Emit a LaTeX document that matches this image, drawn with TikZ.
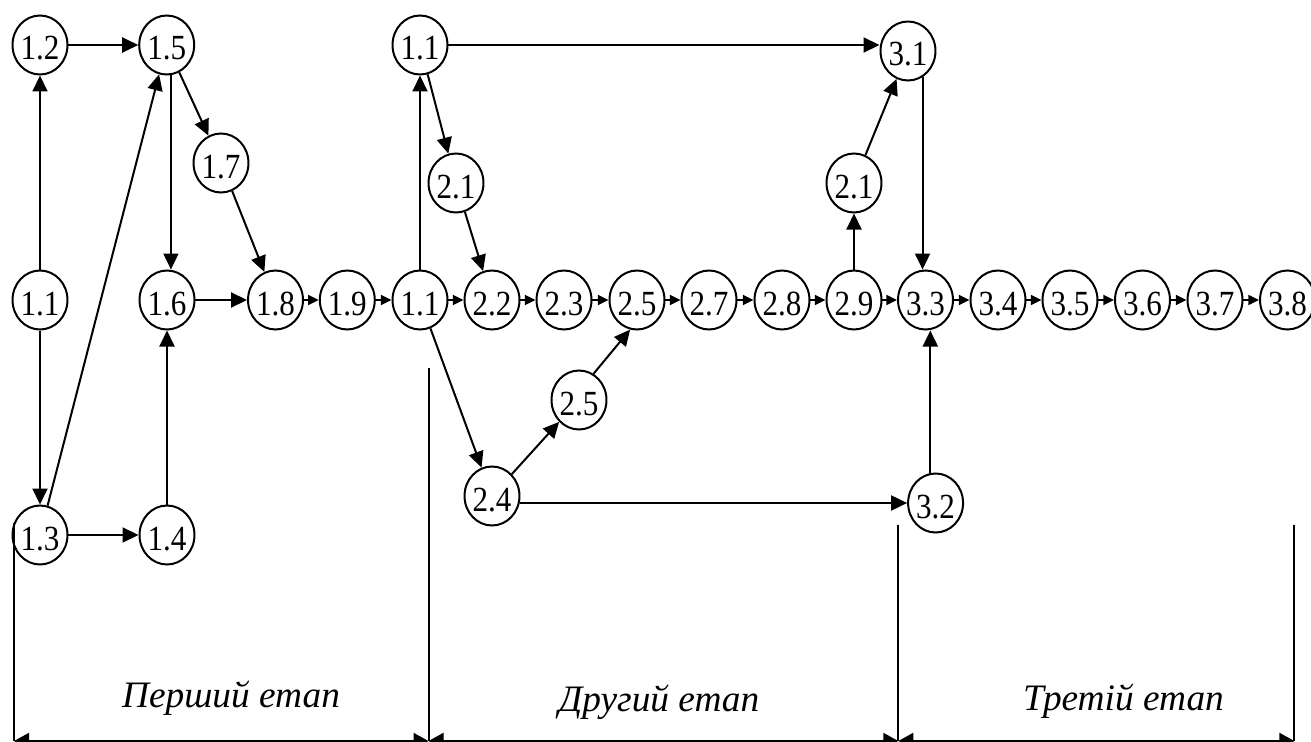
\documentclass[tikz,border=0pt]{standalone}
\usepackage{fontspec}
\usepackage{graphicx}
\setmainfont{Liberation Serif}
\usetikzlibrary{arrows.meta,shapes.geometric}
\newcommand{\evtext}[1]{\scalebox{0.88}[1]{#1}}

\begin{document}
\begin{tikzpicture}[x=0.75pt,y=-0.75pt,
  ev/.style={draw, ellipse, line width=1.5pt, minimum width=40.5pt,
    minimum height=44.25pt, inner sep=0pt,
    font=\fontsize{26.5}{27}\selectfont, text height=22.5pt, text depth=0pt},
  big/.style={line width=1.5pt, -{Triangle[length=12pt,width=11.25pt]}},
  small/.style={line width=1.5pt, -{Triangle[length=8pt,width=7.5pt]}},
  divider/.style={line width=1.5pt},
  span/.style={line width=1.5pt,
    {Triangle[length=11.25pt,width=12pt]}-{Triangle[length=11.25pt,width=12pt]}},
  stage/.style={font=\fontsize{28}{30}\selectfont\itshape, anchor=base, inner sep=0pt}
]
\useasboundingbox (0,0) rectangle (1311,742);
\clip (0,0) rectangle (1311,742);

% first stage events
\node[ev] (n12)  at (40,45)     {\evtext{1.2}};
\node[ev] (n15)  at (166.7,45)  {\evtext{1.5}};
\node[ev] (n17)  at (221,163)   {\evtext{1.7}};
\node[ev] (n11a) at (40,300)    {\evtext{1.1}};
\node[ev] (n16)  at (167,300)   {\evtext{1.6}};
\node[ev] (n18)  at (275.5,300) {\evtext{1.8}};
\node[ev] (n19)  at (347.3,300) {\evtext{1.9}};
\node[ev] (n11b) at (420,300)   {\evtext{1.1}};
\node[ev] (n11c) at (420,45)    {\evtext{1.1}};
\node[ev] (n13)  at (40,535)    {\evtext{1.3}};
\node[ev] (n14)  at (167,535)   {\evtext{1.4}};

% second stage events
\node[ev] (n21a) at (456,183)   {\evtext{2.1}};
\node[ev] (n22)  at (492,300)   {\evtext{2.2}};
\node[ev] (n23)  at (564,300)   {\evtext{2.3}};
\node[ev] (n25a) at (637,300)   {\evtext{2.5}};
\node[ev] (n27)  at (709,300)   {\evtext{2.7}};
\node[ev] (n28)  at (782,300)   {\evtext{2.8}};
\node[ev] (n29)  at (854,300)   {\evtext{2.9}};
\node[ev] (n21b) at (854,183)   {\evtext{2.1}};
\node[ev] (n24)  at (492,496)   {\evtext{2.4}};
\node[ev] (n25b) at (579,400)   {\evtext{2.5}};

% third stage events
\node[ev] (n31)  at (908,51)    {\evtext{3.1}};
\node[ev] (n32)  at (935.6,503) {\evtext{3.2}};
\node[ev] (n33)  at (925.5,300) {\evtext{3.3}};
\node[ev] (n34)  at (998,300)   {\evtext{3.4}};
\node[ev] (n35)  at (1070,300)  {\evtext{3.5}};
\node[ev] (n36)  at (1142.5,300){\evtext{3.6}};
\node[ev] (n37)  at (1215,300)  {\evtext{3.7}};
\node[ev] (n38)  at (1287.5,300){\evtext{3.8}};

% connections of the first stage
\draw[big] (n11a) -- (n12);
\draw[big] (n11a) -- (n13);
\draw[big] (n12) -- (n15);
\draw[big] (n13) -- (n15);
\draw[big] (n15) -- (n17);
\draw[big] (n15.-82) -- (n15.-82 |- n16.north);
\draw[big] (n17) -- (n18);
\draw[big] (n16) -- (n18);
\draw[big] (n14) -- (n16);
\draw[big] (n13) -- (n14);
\draw[small] (n18) -- (n19);
\draw[small] (n19) -- (n11b);

% connections of the second stage
\draw[big] (n11b) -- (n11c);
\draw[big] (n11c.east) -- (n11c.east -| n31.west);
\draw[big] (n11c) -- (n21a);
\draw[big] (n21a) -- (n22);
\draw[big] (n11b) -- (n24);
\draw[big] (n24) -- (n25b);
\draw[big] (n25b.61) -- (n25a.-103);
\draw[big] (n32.west -| n24.east) -- (n32.west);
\draw[big] (n29) -- (n21b);
\draw[big] (n21b) -- (n31);
\draw[small] (n11b) -- (n22);
\draw[small] (n22) -- (n23);
\draw[small] (n23) -- (n25a);
\draw[small] (n25a) -- (n27);
\draw[small] (n27) -- (n28);
\draw[small] (n28) -- (n29);
\draw[small] (n29) -- (n33);

% connections of the third stage
\draw[big] (n31.-61) -- (n31.-61 |- n33.north);
\draw[big] (n32.100) -- (n32.100 |- n33.south);
\draw[small] (n33) -- (n34);
\draw[small] (n34) -- (n35);
\draw[small] (n35) -- (n36);
\draw[small] (n36) -- (n37);
\draw[small] (n37) -- (n38);

% stage boundaries and spans
\coordinate (d0) at (14,523);
\coordinate (d1) at (428.5,368);
\coordinate (d2) at (898.3,525);
\coordinate (d3) at (1294.4,525);
\coordinate (b0) at (14,741);
\coordinate (b1) at (428.5,741);
\coordinate (b2) at (898.3,741);
\coordinate (b3) at (1294.4,741);
\draw[divider] (d0) -- (b0);
\draw[divider] (d1) -- (b1);
\draw[divider] (d2) -- (b2);
\draw[divider] (d3) -- (b3);
\draw[span] (b0) -- (b1);
\draw[span] (b1) -- (b2);
\draw[span] (b2) -- (b3);

\node[stage] (st1) at (231,707)    {Перший етап};
\node[stage] (st2) at (659,711)    {Другий етап};
\node[stage] (st3) at (1123.5,710) {Третій етап};
\end{tikzpicture}
\end{document}
